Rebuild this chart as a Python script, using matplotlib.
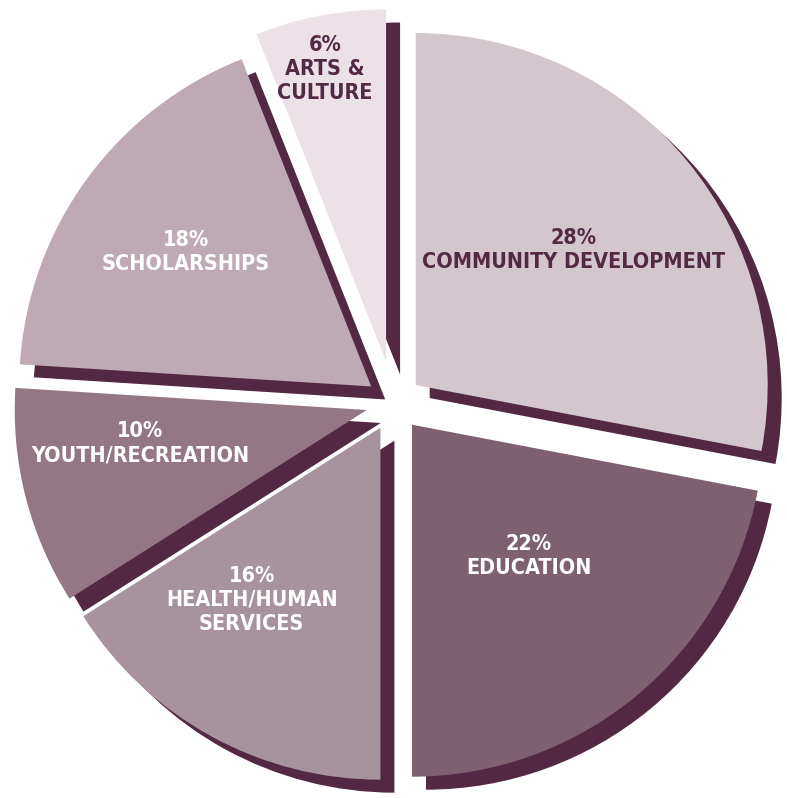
import numpy as np
import matplotlib.pyplot as plt
from matplotlib import font_manager

# grant distribution by area (share of total, %)
categories = ['COMMUNITY DEVELOPMENT', 'EDUCATION', 'HEALTH/HUMAN\nSERVICES',
              'YOUTH/RECREATION', 'SCHOLARSHIPS', 'ARTS &\nCULTURE']
shares = [28, 22, 16, 10, 18, 6]

colors = ['#d4c6cd', '#7f6071', '#a8929e', '#957684', '#bfa9b4', '#ebe1e7']
text_colors = ['#532944', 'white', 'white', 'white', 'white', '#532944']
shadow = '#522843'
explode = [0.08, 0.08, 0.08, 0.08, 0.08, 0.12]
label_r = [0.59, 0.50, 0.61, 0.65, 0.65, 0.85]
label_da = [1, 2, -8, -6, 0, 1]   # small angle nudges for the labels (deg)


def is_bold(f):
    w = f.weight
    return w in ('bold', 'heavy', 'black') or (isinstance(w, int) and w >= 700)


# pick a bold condensed face if one is installed
cond = [f for f in font_manager.fontManager.ttflist
        if is_bold(f) and f.style == 'normal'
        and ('Narrow' in f.name or 'Condensed' in f.name
             or 'condensed' in str(f.stretch))]
if cond:
    fp = font_manager.FontProperties(fname=cond[0].fname)
    fsize = 15.5
else:
    fp = font_manager.FontProperties(family='Roboto', weight='bold')
    fsize = 14.5

W, H = 787, 798
R = 352.0          # pie radius in pixels
cx, cy = 394, 403  # pie centre in pixels (from top-left)

fig = plt.figure(figsize=(W / 100, H / 100), dpi=100)
ax = fig.add_axes([0, 0, 1, 1])

# shadow copy, shifted down-right
ax.pie(shares, explode=explode, colors=[shadow] * len(shares), startangle=90,
       counterclock=False, center=(14 / R, -13 / R),
       wedgeprops=dict(linewidth=0))
wedges, _ = ax.pie(shares, explode=explode, colors=colors, startangle=90,
                   counterclock=False, wedgeprops=dict(linewidth=0))

for w, name, share, tc, r, da in zip(wedges, categories, shares, text_colors,
                                     label_r, label_da):
    mid = np.deg2rad((w.theta1 + w.theta2) / 2 + da)
    x = w.center[0] + r * np.cos(mid)
    y = w.center[1] + r * np.sin(mid)
    ax.text(x, y, '{}%\n{}'.format(share, name), ha='center', va='center',
            color=tc, fontproperties=fp, fontsize=fsize, linespacing=1.25)

ax.set_aspect('auto')
ax.set_xlim(-cx / R, (W - cx) / R)
ax.set_ylim(-(H - cy) / R, cy / R)
ax.axis('off')

fig.savefig('out.png', dpi=100, facecolor='white')
